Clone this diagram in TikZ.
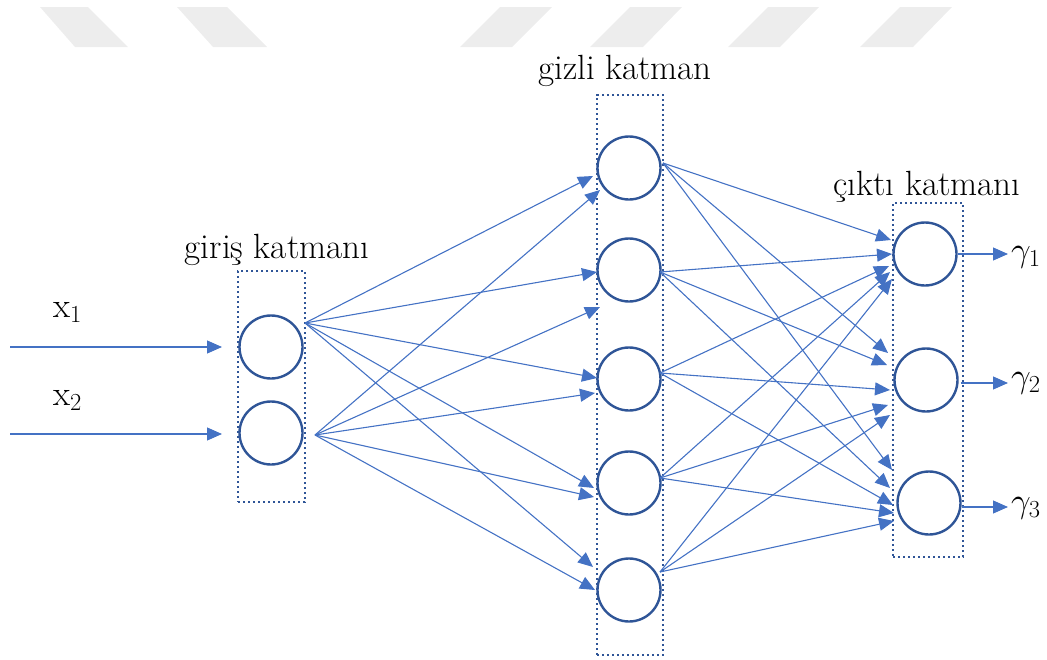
\RequirePackage{fix-cm}
\documentclass[tikz,border=0pt]{standalone}
\usetikzlibrary{arrows.meta,calc}
\definecolor{connc}{HTML}{4472C4}
\definecolor{dk}{HTML}{2F5597}
\definecolor{wm}{HTML}{EDEDED}
\begin{document}
\begin{tikzpicture}[x=1pt,y=-1pt,
  neuron/.style={circle,draw=dk,line width=2.4pt,minimum size=63pt,inner sep=0pt},
  layerbox/.style={draw=dk,line width=2.4pt,dash pattern=on 2.4pt off 2.6pt,inner sep=0pt},
  conn/.style={draw=connc,line width=1.1pt,-{Triangle[length=15pt,width=13pt]}},
  lbl/.style={font=\fontsize{35}{40}\selectfont,inner sep=0pt,anchor=base}]
\useasboundingbox (0,0) rectangle (1047,659);
% watermark
\fill[wm] (40,7) -- (88,7) -- (128,47) -- (75,47) -- cycle;
\fill[wm] (177,7) -- (227,7) -- (267,47) -- (213,47) -- cycle;
\fill[wm] (500,7) -- (552,7) -- (512,47) -- (460,47) -- cycle;
\fill[wm] (630,7) -- (682,7) -- (643,47) -- (590,47) -- cycle;
\fill[wm] (768,7) -- (819,7) -- (780,47) -- (728,47) -- cycle;
\fill[wm] (900,7) -- (952,7) -- (913,47) -- (860,47) -- cycle;
% layer boxes
\node[layerbox,minimum width=67pt,minimum height=231pt] (inbox) at (271.5,386.5) {};
\node[layerbox,minimum width=66pt,minimum height=560pt] (hidbox) at (630,375) {};
\node[layerbox,minimum width=70pt,minimum height=354pt] (outbox) at (928,380) {};
% neurons
\node[neuron] (i1) at (271,347) {};
\node[neuron] (i2) at (271,433) {};
\node[neuron] (h1) at (629,168) {};
\node[neuron] (h2) at (629,270) {};
\node[neuron] (h3) at (629,379) {};
\node[neuron] (h4) at (629,483) {};
\node[neuron] (h5) at (629,590) {};
\node[neuron] (o1) at (925,254) {};
\node[neuron] (o2) at (926,380) {};
\node[neuron] (o3) at (929,503) {};
% labels
\node[lbl] (lin) at (277,258) {giriş katmanı};
\node[lbl] (lhid) at (625,79) {gizli katman};
\node[lbl] (lout) at (927,195) {çıktı katmanı};
\node[lbl,anchor=base west] (x1) at (53,317) {$\mathrm{x}_1$};
\node[lbl,anchor=base west] (x2) at (53,405) {$\mathrm{x}_2$};
\node[lbl,anchor=base west] (y1) at (1011,261) {$\gamma_1$};
\node[lbl,anchor=base west] (y2) at (1011,387) {$\gamma_2$};
\node[lbl,anchor=base west] (y3) at (1011,512) {$\gamma_3$};
% free ends of input arrows
\coordinate (s1) at (10,347);
\coordinate (s2) at (10,434);
\draw[conn] (s1) -- ($(i1)+(-49,0)$);
\draw[conn] (s2) -- ($(i2)+(-49,1)$);
% source points
\coordinate (i1s) at ($(i1)+(34,-24)$);
\coordinate (i2s) at ($(i2)+(44,2)$);
\coordinate (h1s) at ($(h1)+(34,-5)$);
\coordinate (h2s) at ($(h2)+(31,2)$);
\coordinate (h3s) at ($(h3)+(31,-6)$);
\coordinate (h4s) at ($(h4)+(31,-5)$);
\coordinate (h5s) at ($(h5)+(31,-18)$);
% input -> hidden
\draw[conn] (i1s) -- ($(h1)+(-36,8)$);
\draw[conn] (i2s) -- ($(h1)+(-29,22)$);
\draw[conn] (i1s) -- ($(h2)+(-32,2)$);
\draw[conn] (i2s) -- ($(h2)+(-29,37)$);
\draw[conn] (i1s) -- ($(h3)+(-32,-1)$);
\draw[conn] (i2s) -- ($(h3)+(-34,14)$);
\draw[conn] (i1s) -- ($(h4)+(-35,5)$);
\draw[conn] (i2s) -- ($(h4)+(-35,14)$);
\draw[conn] (i1s) -- ($(h5)+(-36,-23)$);
\draw[conn] (i2s) -- ($(h5)+(-34,0)$);
% hidden -> output
\draw[conn] (h1s) -- ($(o1)+(-34,-14)$);
\draw[conn] (h2s) -- ($(o1)+(-33,0)$);
\draw[conn] (h3s) -- ($(o1)+(-36,12)$);
\draw[conn] (h4s) -- ($(o1)+(-35,18)$);
\draw[conn] (h5s) -- ($(o1)+(-33,25)$);
\draw[conn] (h1s) -- ($(o2)+(-38,-27)$);
\draw[conn] (h2s) -- ($(o2)+(-39,-15)$);
\draw[conn] (h3s) -- ($(o2)+(-36,10)$);
\draw[conn] (h4s) -- ($(o2)+(-38,25)$);
\draw[conn] (h5s) -- ($(o2)+(-36,35)$);
\draw[conn] (h1s) -- ($(o3)+(-37,-33)$);
\draw[conn] (h2s) -- ($(o3)+(-39,-15)$);
\draw[conn] (h3s) -- ($(o3)+(-36,2)$);
\draw[conn] (h4s) -- ($(o3)+(-35,10)$);
\draw[conn] (h5s) -- ($(o3)+(-35,18)$);
% output arrows
\draw[conn] (o1.east) -- ($(y1.west |- o1.east)+(-3,0)$);
\draw[conn] ($(o2.east)+(2,3)$) -- ($(y2.west |- o2.east)+(-3,3)$);
\draw[conn] ($(o3.east)+(0,4)$) -- ($(y3.west |- o3.east)+(-3,4)$);
\end{tikzpicture}
\end{document}
